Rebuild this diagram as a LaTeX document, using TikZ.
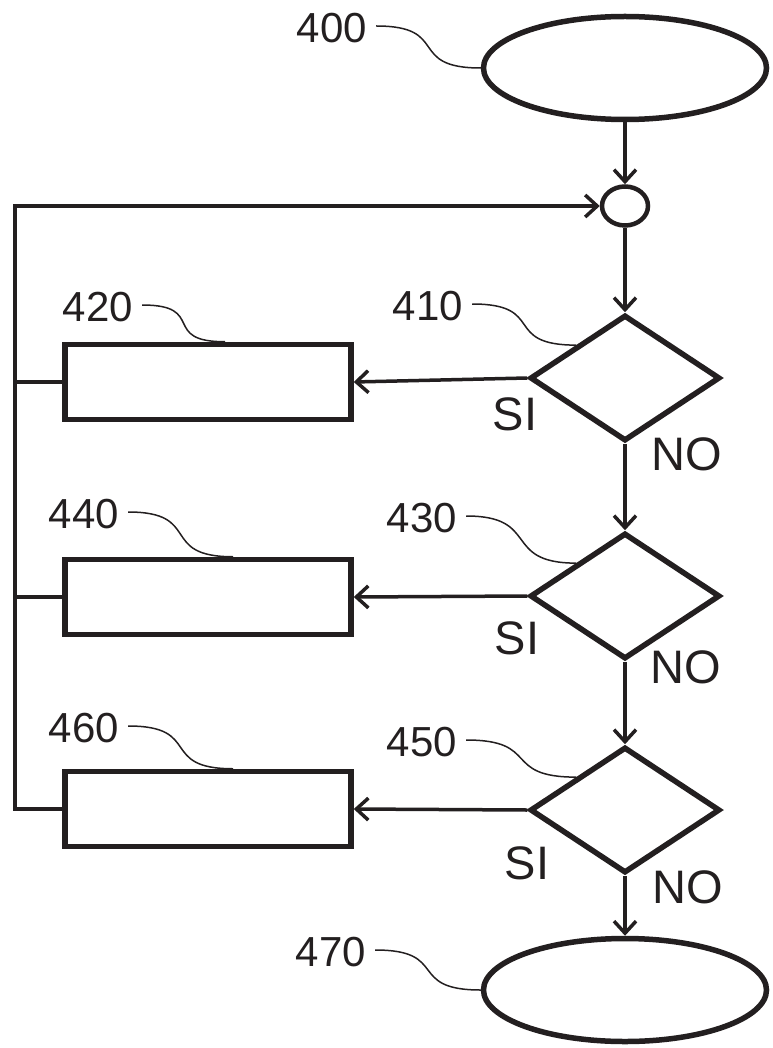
\documentclass[tikz,border=0pt]{standalone}
\usepackage{fontspec}
\setmainfont{Liberation Sans}
\usetikzlibrary{
    shapes.geometric,
    arrows.meta,
    positioning,
}
\definecolor{ink}{RGB}{35,31,32}

\begin{document}
\begin{tikzpicture}[x=1pt, y=-1pt,
    term/.style={draw=ink, ellipse, line width=5.5pt, minimum width=283pt, minimum height=103pt, inner sep=0pt},
    joint/.style={draw=ink, ellipse, line width=4.5pt, minimum width=46pt, minimum height=39pt, inner sep=0pt},
    test/.style={draw=ink, diamond, line width=5.5pt, minimum width=190pt, minimum height=126pt, inner sep=0pt},
    task/.style={draw=ink, rectangle, line width=5.5pt, minimum width=286pt, minimum height=75pt, inner sep=0pt},
    flow/.style={draw=ink, line width=3.5pt, -{Straight Barb[length=12pt,width=22pt]}},
    wire/.style={draw=ink, line width=3.5pt},
    leader/.style={draw=ink, line width=1.5pt},
    tag/.style={text=ink, inner sep=0pt, font=\fontsize{42}{48}\selectfont},
    answer/.style={text=ink, inner sep=0pt, font=\fontsize{47}{54}\selectfont},
]
        \useasboundingbox (0,0) rectangle (772,1048);

        \node[term] (ST) at (625,68) {};
        \node[joint] (JN) at (625,206) {};
        \node[test] (D1) at (625,378) {};
        \node[test] (D2) at (625,596) {};
        \node[test] (D3) at (625,810) {};
        \node[task] (R1) at (208,382) {};
        \node[task] (R2) at (208,597) {};
        \node[task] (R3) at (208,809) {};
        \node[term] (EN) at (625,990) {};
        \coordinate (BUS) at (15,206);

        \draw[flow] (ST.south) -- (JN.north);
        \draw[flow] (JN.south) -- (D1.north);
        \draw[flow] (D1.south) -- (D2.north);
        \draw[flow] (D2.south) -- (D3.north);
        \draw[flow] (D3.south) -- (EN.north);

        \draw[flow] (D1.west) -- (R1.east);
        \draw[flow] (D2.west) -- (R2.east);
        \draw[flow] (D3.west) -- (R3.east);

        \draw[flow] (R3.west) -| (BUS) -- (JN.west);
        \draw[wire] (R1.west) -- (R1.west -| BUS);
        \draw[wire] (R2.west) -- (R2.west -| BUS);

        \node[answer] (Y1) at (515,414) {SI};
        \node[answer] (N1) at (687,454) {NO};
        \node[answer] (Y2) at (517,638) {SI};
        \node[answer] (N2) at (686,667) {NO};
        \node[answer] (Y3) at (527,863) {SI};
        \node[answer] (N3) at (688,887) {NO};

        \node[tag] (L400) at (332,28) {400};
        \node[tag] (L410) at (428,306) {410};
        \node[tag] (L420) at (98,307) {420};
        \node[tag] (L430) at (422,518) {430};
        \node[tag] (L440) at (84,514) {440};
        \node[tag] (L450) at (422,742) {450};
        \node[tag] (L460) at (84,728) {460};
        \node[tag] (L470) at (331,952) {470};

        \draw[leader] ([xshift=9pt,yshift=2pt]L400.east) .. controls +(75,0) and +(-75,0) .. (ST.west);
        \draw[leader] ([xshift=9pt,yshift=2pt]L410.east) .. controls +(75,0) and +(-75,0) .. (D1.north west);
        \draw[leader] ([xshift=9pt,yshift=2pt]L420.east) .. controls +(65,0) and +(-65,0) .. ([xshift=17pt]R1.north);
        \draw[leader] ([xshift=9pt,yshift=2pt]L430.east) .. controls +(75,0) and +(-75,0) .. (D2.north west);
        \draw[leader] ([xshift=9pt,yshift=2pt]L440.east) .. controls +(75,0) and +(-75,0) .. ([xshift=25pt]R2.north);
        \draw[leader] ([xshift=9pt,yshift=2pt]L450.east) .. controls +(75,0) and +(-75,0) .. (D3.north west);
        \draw[leader] ([xshift=9pt,yshift=2pt]L460.east) .. controls +(75,0) and +(-75,0) .. ([xshift=25pt]R3.north);
        \draw[leader] ([xshift=9pt,yshift=2pt]L470.east) .. controls +(75,0) and +(-75,0) .. (EN.west);
    \end{tikzpicture}
\end{document}
